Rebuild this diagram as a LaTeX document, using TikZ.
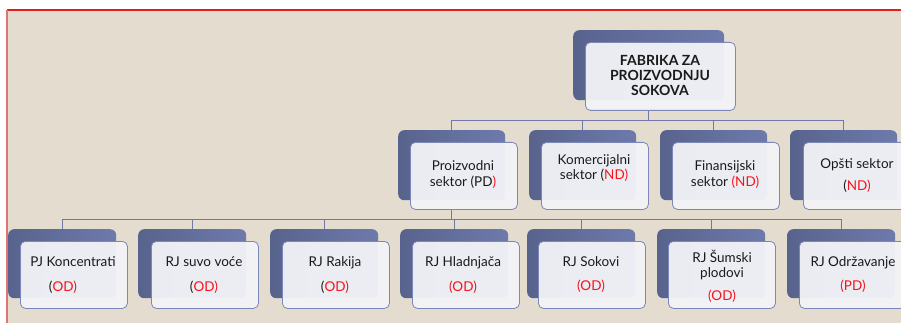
\documentclass[tikz,border=0pt]{standalone}
\usepackage{fontspec}
\setmainfont{Lato}
\usetikzlibrary{calc}
\definecolor{bgbeige}{HTML}{E4DCCF}
\definecolor{backdark}{HTML}{58638D}
\definecolor{backlight}{HTML}{6E7AAB}
\definecolor{frontfill}{HTML}{F3F4F8}
\definecolor{frontline}{HTML}{7B87B8}
\definecolor{connline}{HTML}{6F78A6}
\definecolor{redtxt}{HTML}{F5141C}
\definecolor{textdark}{HTML}{1A1A1A}
\definecolor{redtop}{HTML}{E01E1E}
\definecolor{redleft}{HTML}{E07474}
\newcommand\redt[1]{\textcolor{redtxt}{#1}}
\pgfdeclarelayer{bglayer}
\pgfdeclarelayer{conlayer}
\pgfsetlayers{bglayer,conlayer,main}
\tikzset{
  backbox/.style={rounded corners=6pt, left color=backdark, right color=backlight,
    draw=none, anchor=north west, inner sep=0pt},
  frontbox/.style={rounded corners=5pt, fill=frontfill, fill opacity=0.95,
    draw=frontline, line width=0.8pt, anchor=north west, inner sep=0pt},
  conn/.style={draw=connline, line width=0.9pt},
  txt/.style={align=center, inner sep=0pt, text=textdark,
    font=\fontsize{13.5}{16}\selectfont},
  txtb/.style={align=center, inner sep=0pt, text=textdark,
    font=\fontsize{13.5}{15}\selectfont},
  toptxt/.style={align=center, inner sep=0pt, text=textdark,
    font=\fontsize{14}{15}\selectfont\bfseries},
  l1back/.style={backbox, minimum width=151pt, minimum height=70pt},
  l1front/.style={frontbox, minimum width=150pt, minimum height=68pt},
  l2back/.style={backbox, minimum width=107pt, minimum height=70pt},
  l2front/.style={frontbox, minimum width=107pt, minimum height=67pt},
  l3back/.style={backbox, minimum width=108pt, minimum height=69pt},
  l3front/.style={frontbox, minimum width=107pt, minimum height=67pt},
}
\begin{document}
\begin{tikzpicture}[x=1pt, y=-1pt]
\useasboundingbox (0,0) rectangle (901,323);
\begin{pgfonlayer}{bglayer}
  \fill[white] (0,0) rectangle (901,323);
  \fill[bgbeige] (7,10) rectangle (901,323);
  \draw[redtop, line width=1.6pt] (7,10) -- (901,10);
  \draw[redleft, line width=2pt] (7,10) -- (7,323);
\end{pgfonlayer}

% level 1
\node[l1back] (b1) at (573,30) {};
\node[l1front] (f1) at (585,42) {};
\node[toptxt] (t1) at (660,75) {FABRIKA ZA\\PROIZVODNJU\\SOKOVA};

% level 2
\node[l2back] (b21) at (398,130) {};
\node[l2front] (f21) at (410,142) {};
\node[l2back] (b22) at (529,130) {};
\node[l2front] (f22) at (541,142) {};
\node[l2back] (b23) at (660,130) {};
\node[l2front] (f23) at (672,142) {};
\node[l2back] (b24) at (790,130) {};
\node[l2front] (f24) at (803,142) {};

\node[txt] (t21) at (463,175) {Proizvodni\\sektor (PD\redt{)}};
\node[txt, font=\fontsize{13.5}{15}\selectfont] (t22) at (594,168) {Komercijalni\\sektor (\redt{ND)}};
\node[txt] (t23) at (725,175) {Finansijski\\sektor \redt{(ND)}};
\node[txt] (t24) at (857,176) {Opšti sektor\\[6pt](\redt{ND)}};

% level 3
\node[l3back] (b31) at (8,229) {};
\node[l3front] (f31) at (20,241) {};
\node[l3back] (b32) at (138,229) {};
\node[l3front] (f32) at (151,241) {};
\node[l3back] (b33) at (270,229) {};
\node[l3front] (f33) at (282,241) {};
\node[l3back] (b34) at (400,229) {};
\node[l3front] (f34) at (412,241) {};
\node[l3back] (b35) at (527,229) {};
\node[l3front] (f35) at (538,241) {};
\node[l3back] (b36) at (657,229) {};
\node[l3front] (f36) at (668,241) {};
\node[l3back] (b37) at (787,229) {};
\node[l3front] (f37) at (799,241) {};

\node[txtb] (t31) at (73,275) {PJ Koncentrati\\[10pt](\redt{OD)}\hspace*{20pt}};
\node[txtb] (t32) at (204,275) {RJ suvo voće\\[10pt](\redt{OD)}};
\node[txtb] (t33) at (335,275) {RJ Rakija\\[10pt](\redt{OD)}};
\node[txtb] (t34) at (463,275) {RJ Hladnjača\\[10pt]\redt{(OD)}};
\node[txtb] (t35) at (591,275) {RJ Sokovi\\[9pt]\redt{(OD)}};
\node[txtb] (t36) at (722,276) {RJ Šumski\\plodovi\\[8pt]\redt{(OD)}};
\node[txtb] (t37) at (853,275) {RJ Održavanje\\[9pt]\redt{(PD)}};

% connectors
\coordinate (bus1) at (0,120);
\coordinate (bus2) at (0,219);
\begin{pgfonlayer}{conlayer}
  \foreach \c in {b21,b22,b23,b24}
    \draw[conn] (b1.south |- f1.south) -- (b1.south |- bus1) -| (\c.north);
  \foreach \c in {b31,b32,b33,b34,b35,b36,b37}
    \draw[conn] (b21.south |- f21.south) -- (b21.south |- bus2) -| (\c.north);
\end{pgfonlayer}
\end{tikzpicture}
\end{document}
